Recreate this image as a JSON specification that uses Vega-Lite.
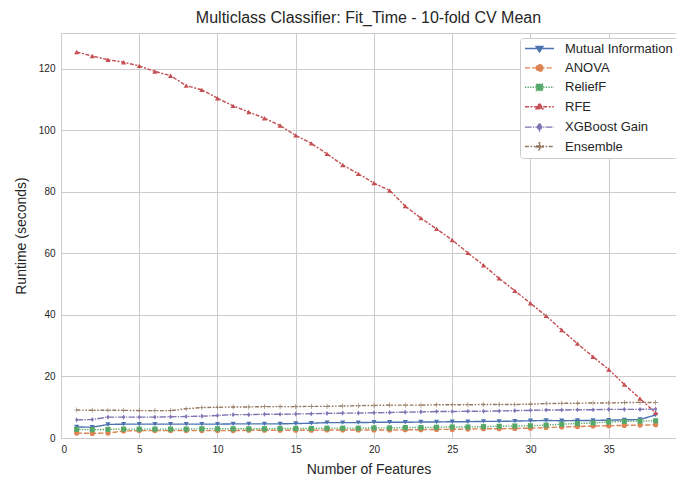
{
  "$schema": "https://vega.github.io/schema/vega-lite/v6.json",
  "width": 615,
  "height": 405,
  "autosize": {"type": "none"},
  "padding": {"left": 61, "top": 33, "right": 0, "bottom": 42},
  "background": "white",
  "title": {"text": "Multiclass Classifier: Fit_Time - 10-fold CV Mean", "fontSize": 16, "font": "Liberation Sans", "fontWeight": "normal", "color": "#262626", "offset": 7},
  "config": {
    "font": "Liberation Sans",
    "view": {"stroke": "#cccccc", "strokeWidth": 1},
    "axis": {"gridColor": "#cccccc", "gridWidth": 1, "domain": false, "ticks": false, "labelFontSize": 10, "labelColor": "#262626", "titleFontSize": 14, "titleFontWeight": "normal", "titleColor": "#262626", "labelPadding": 6},
    "point": {"filled": true, "opacity": 1, "size": 26, "strokeWidth": 0}
  },
  "data": {"values": [
{"x":1,"m":"Mutual Information","y":3.6},{"x":2,"m":"Mutual Information","y":3.5},{"x":3,"m":"Mutual Information","y":4.4},{"x":4,"m":"Mutual Information","y":4.5},{"x":5,"m":"Mutual Information","y":4.5},{"x":6,"m":"Mutual Information","y":4.5},{"x":7,"m":"Mutual Information","y":4.5},{"x":8,"m":"Mutual Information","y":4.5},{"x":9,"m":"Mutual Information","y":4.5},{"x":10,"m":"Mutual Information","y":4.5},{"x":11,"m":"Mutual Information","y":4.6},{"x":12,"m":"Mutual Information","y":4.6},{"x":13,"m":"Mutual Information","y":4.6},{"x":14,"m":"Mutual Information","y":4.6},{"x":15,"m":"Mutual Information","y":4.7},{"x":16,"m":"Mutual Information","y":4.8},{"x":17,"m":"Mutual Information","y":5.0},{"x":18,"m":"Mutual Information","y":5.0},{"x":19,"m":"Mutual Information","y":5.0},{"x":20,"m":"Mutual Information","y":5.1},{"x":21,"m":"Mutual Information","y":5.1},{"x":22,"m":"Mutual Information","y":5.1},{"x":23,"m":"Mutual Information","y":5.2},{"x":24,"m":"Mutual Information","y":5.2},{"x":25,"m":"Mutual Information","y":5.3},{"x":26,"m":"Mutual Information","y":5.3},{"x":27,"m":"Mutual Information","y":5.4},{"x":28,"m":"Mutual Information","y":5.4},{"x":29,"m":"Mutual Information","y":5.5},{"x":30,"m":"Mutual Information","y":5.6},{"x":31,"m":"Mutual Information","y":5.7},{"x":32,"m":"Mutual Information","y":5.6},{"x":33,"m":"Mutual Information","y":5.7},{"x":34,"m":"Mutual Information","y":5.7},{"x":35,"m":"Mutual Information","y":5.8},{"x":36,"m":"Mutual Information","y":5.9},{"x":37,"m":"Mutual Information","y":6.0},{"x":38,"m":"Mutual Information","y":7.5},
{"x":1,"m":"ANOVA","y":1.6},{"x":2,"m":"ANOVA","y":1.5},{"x":3,"m":"ANOVA","y":1.6},{"x":4,"m":"ANOVA","y":2.3},{"x":5,"m":"ANOVA","y":2.4},{"x":6,"m":"ANOVA","y":2.4},{"x":7,"m":"ANOVA","y":2.4},{"x":8,"m":"ANOVA","y":2.4},{"x":9,"m":"ANOVA","y":2.4},{"x":10,"m":"ANOVA","y":2.4},{"x":11,"m":"ANOVA","y":2.4},{"x":12,"m":"ANOVA","y":2.5},{"x":13,"m":"ANOVA","y":2.5},{"x":14,"m":"ANOVA","y":2.5},{"x":15,"m":"ANOVA","y":2.5},{"x":16,"m":"ANOVA","y":2.5},{"x":17,"m":"ANOVA","y":2.6},{"x":18,"m":"ANOVA","y":2.6},{"x":19,"m":"ANOVA","y":2.6},{"x":20,"m":"ANOVA","y":2.6},{"x":21,"m":"ANOVA","y":2.6},{"x":22,"m":"ANOVA","y":2.7},{"x":23,"m":"ANOVA","y":2.7},{"x":24,"m":"ANOVA","y":2.8},{"x":25,"m":"ANOVA","y":2.8},{"x":26,"m":"ANOVA","y":2.9},{"x":27,"m":"ANOVA","y":3.0},{"x":28,"m":"ANOVA","y":3.0},{"x":29,"m":"ANOVA","y":3.1},{"x":30,"m":"ANOVA","y":3.2},{"x":31,"m":"ANOVA","y":3.4},{"x":32,"m":"ANOVA","y":3.6},{"x":33,"m":"ANOVA","y":3.7},{"x":34,"m":"ANOVA","y":3.9},{"x":35,"m":"ANOVA","y":4.0},{"x":36,"m":"ANOVA","y":4.1},{"x":37,"m":"ANOVA","y":4.2},{"x":38,"m":"ANOVA","y":4.3},
{"x":1,"m":"ReliefF","y":2.8},{"x":2,"m":"ReliefF","y":2.7},{"x":3,"m":"ReliefF","y":2.8},{"x":4,"m":"ReliefF","y":2.9},{"x":5,"m":"ReliefF","y":2.9},{"x":6,"m":"ReliefF","y":2.9},{"x":7,"m":"ReliefF","y":2.9},{"x":8,"m":"ReliefF","y":2.9},{"x":9,"m":"ReliefF","y":3.0},{"x":10,"m":"ReliefF","y":3.0},{"x":11,"m":"ReliefF","y":3.0},{"x":12,"m":"ReliefF","y":3.0},{"x":13,"m":"ReliefF","y":3.0},{"x":14,"m":"ReliefF","y":3.1},{"x":15,"m":"ReliefF","y":3.1},{"x":16,"m":"ReliefF","y":3.1},{"x":17,"m":"ReliefF","y":3.2},{"x":18,"m":"ReliefF","y":3.2},{"x":19,"m":"ReliefF","y":3.2},{"x":20,"m":"ReliefF","y":3.3},{"x":21,"m":"ReliefF","y":3.3},{"x":22,"m":"ReliefF","y":3.4},{"x":23,"m":"ReliefF","y":3.4},{"x":24,"m":"ReliefF","y":3.5},{"x":25,"m":"ReliefF","y":3.6},{"x":26,"m":"ReliefF","y":3.6},{"x":27,"m":"ReliefF","y":3.7},{"x":28,"m":"ReliefF","y":3.8},{"x":29,"m":"ReliefF","y":3.9},{"x":30,"m":"ReliefF","y":4.0},{"x":31,"m":"ReliefF","y":4.2},{"x":32,"m":"ReliefF","y":4.5},{"x":33,"m":"ReliefF","y":4.7},{"x":34,"m":"ReliefF","y":4.9},{"x":35,"m":"ReliefF","y":5.2},{"x":36,"m":"ReliefF","y":5.4},{"x":37,"m":"ReliefF","y":5.5},{"x":38,"m":"ReliefF","y":5.6},
{"x":1,"m":"RFE","y":125.5},{"x":2,"m":"RFE","y":124.2},{"x":3,"m":"RFE","y":123.0},{"x":4,"m":"RFE","y":122.2},{"x":5,"m":"RFE","y":121.0},{"x":6,"m":"RFE","y":119.2},{"x":7,"m":"RFE","y":117.8},{"x":8,"m":"RFE","y":114.6},{"x":9,"m":"RFE","y":113.2},{"x":10,"m":"RFE","y":110.5},{"x":11,"m":"RFE","y":108.0},{"x":12,"m":"RFE","y":106.0},{"x":13,"m":"RFE","y":104.0},{"x":14,"m":"RFE","y":101.6},{"x":15,"m":"RFE","y":98.4},{"x":16,"m":"RFE","y":95.8},{"x":17,"m":"RFE","y":92.4},{"x":18,"m":"RFE","y":88.8},{"x":19,"m":"RFE","y":85.9},{"x":20,"m":"RFE","y":82.9},{"x":21,"m":"RFE","y":80.5},{"x":22,"m":"RFE","y":75.4},{"x":23,"m":"RFE","y":71.5},{"x":24,"m":"RFE","y":68.0},{"x":25,"m":"RFE","y":64.4},{"x":26,"m":"RFE","y":60.2},{"x":27,"m":"RFE","y":56.2},{"x":28,"m":"RFE","y":51.9},{"x":29,"m":"RFE","y":47.9},{"x":30,"m":"RFE","y":43.8},{"x":31,"m":"RFE","y":39.7},{"x":32,"m":"RFE","y":35.1},{"x":33,"m":"RFE","y":30.7},{"x":34,"m":"RFE","y":26.4},{"x":35,"m":"RFE","y":22.3},{"x":36,"m":"RFE","y":17.4},{"x":37,"m":"RFE","y":12.8},{"x":38,"m":"RFE","y":8.2},
{"x":1,"m":"XGBoost Gain","y":5.9},{"x":2,"m":"XGBoost Gain","y":6.0},{"x":3,"m":"XGBoost Gain","y":6.8},{"x":4,"m":"XGBoost Gain","y":6.8},{"x":5,"m":"XGBoost Gain","y":6.8},{"x":6,"m":"XGBoost Gain","y":6.8},{"x":7,"m":"XGBoost Gain","y":6.9},{"x":8,"m":"XGBoost Gain","y":7.0},{"x":9,"m":"XGBoost Gain","y":7.1},{"x":10,"m":"XGBoost Gain","y":7.3},{"x":11,"m":"XGBoost Gain","y":7.6},{"x":12,"m":"XGBoost Gain","y":7.6},{"x":13,"m":"XGBoost Gain","y":7.7},{"x":14,"m":"XGBoost Gain","y":7.7},{"x":15,"m":"XGBoost Gain","y":7.8},{"x":16,"m":"XGBoost Gain","y":7.9},{"x":17,"m":"XGBoost Gain","y":8.0},{"x":18,"m":"XGBoost Gain","y":8.1},{"x":19,"m":"XGBoost Gain","y":8.1},{"x":20,"m":"XGBoost Gain","y":8.2},{"x":21,"m":"XGBoost Gain","y":8.3},{"x":22,"m":"XGBoost Gain","y":8.4},{"x":23,"m":"XGBoost Gain","y":8.5},{"x":24,"m":"XGBoost Gain","y":8.6},{"x":25,"m":"XGBoost Gain","y":8.6},{"x":26,"m":"XGBoost Gain","y":8.7},{"x":27,"m":"XGBoost Gain","y":8.7},{"x":28,"m":"XGBoost Gain","y":8.8},{"x":29,"m":"XGBoost Gain","y":8.9},{"x":30,"m":"XGBoost Gain","y":9.0},{"x":31,"m":"XGBoost Gain","y":9.1},{"x":32,"m":"XGBoost Gain","y":9.1},{"x":33,"m":"XGBoost Gain","y":9.2},{"x":34,"m":"XGBoost Gain","y":9.2},{"x":35,"m":"XGBoost Gain","y":9.3},{"x":36,"m":"XGBoost Gain","y":9.3},{"x":37,"m":"XGBoost Gain","y":9.3},{"x":38,"m":"XGBoost Gain","y":9.4},
{"x":1,"m":"Ensemble","y":9.1},{"x":2,"m":"Ensemble","y":9.0},{"x":3,"m":"Ensemble","y":9.0},{"x":4,"m":"Ensemble","y":9.0},{"x":5,"m":"Ensemble","y":8.9},{"x":6,"m":"Ensemble","y":8.9},{"x":7,"m":"Ensemble","y":8.9},{"x":8,"m":"Ensemble","y":9.5},{"x":9,"m":"Ensemble","y":9.9},{"x":10,"m":"Ensemble","y":10.0},{"x":11,"m":"Ensemble","y":10.1},{"x":12,"m":"Ensemble","y":10.1},{"x":13,"m":"Ensemble","y":10.2},{"x":14,"m":"Ensemble","y":10.2},{"x":15,"m":"Ensemble","y":10.2},{"x":16,"m":"Ensemble","y":10.3},{"x":17,"m":"Ensemble","y":10.3},{"x":18,"m":"Ensemble","y":10.4},{"x":19,"m":"Ensemble","y":10.5},{"x":20,"m":"Ensemble","y":10.6},{"x":21,"m":"Ensemble","y":10.7},{"x":22,"m":"Ensemble","y":10.7},{"x":23,"m":"Ensemble","y":10.7},{"x":24,"m":"Ensemble","y":10.8},{"x":25,"m":"Ensemble","y":10.8},{"x":26,"m":"Ensemble","y":10.8},{"x":27,"m":"Ensemble","y":10.9},{"x":28,"m":"Ensemble","y":10.9},{"x":29,"m":"Ensemble","y":10.9},{"x":30,"m":"Ensemble","y":11.0},{"x":31,"m":"Ensemble","y":11.2},{"x":32,"m":"Ensemble","y":11.3},{"x":33,"m":"Ensemble","y":11.3},{"x":34,"m":"Ensemble","y":11.4},{"x":35,"m":"Ensemble","y":11.4},{"x":36,"m":"Ensemble","y":11.5},{"x":37,"m":"Ensemble","y":11.6},{"x":38,"m":"Ensemble","y":11.5}
  ]},
  "encoding": {
    "x": {"field": "x", "type": "quantitative", "title": "Number of Features", "scale": {"domain": [0, 39.3], "nice": false, "zero": false}, "axis": {"values": [0,5,10,15,20,25,30,35], "titlePadding": 8}},
    "y": {"field": "y", "type": "quantitative", "title": "Runtime (seconds)", "scale": {"domain": [0, 131.7], "nice": false}, "axis": {"values": [0,20,40,60,80,100,120], "titlePadding": 10}}
  },
  "layer": [
    {"mark": {"type": "line", "strokeWidth": 1.4},
     "encoding": {
       "color": {"field": "m", "type": "nominal", "title": null,
         "scale": {"domain": ["Mutual Information","ANOVA","ReliefF","RFE","XGBoost Gain","Ensemble"], "range": ["#4C72B0","#DD8452","#55A868","#C44E52","#8172B3","#937860"]},
         "legend": {"orient": "none", "legendX": 459, "legendY": 5, "fillColor": "white", "strokeColor": "#cccccc", "cornerRadius": 3, "padding": 4, "labelFontSize": 13, "labelColor": "#262626", "rowPadding": 5.4, "symbolType": "stroke", "symbolSize": 121, "symbolStrokeWidth": 1.4, "labelOffset": 28,
           "encode": {"symbols": {"update": {
             "fill": {"scale": "color", "field": "value"},
             "fillOpacity": {"value": 1},
             "shape": {"signal": "datum.value === 'Mutual Information' ? 'M-1,0H4.27M1.0,-0.38L2.28,-0.38L1.64,0.64Z' : datum.value === 'ANOVA' ? 'M-1,0H4.27M2.24,0A0.6,0.6 0 1,1 1.04,0A0.6,0.6 0 1,1 2.24,0Z' : datum.value === 'ReliefF' ? 'M-1,0H4.27M1.06,-0.58H2.22V0.58H1.06Z' : datum.value === 'RFE' ? 'M-1,0H4.27M1.0,0.38L2.28,0.38L1.64,-0.64Z' : datum.value === 'XGBoost Gain' ? 'M-1,0H4.27M1.64,-0.7L2.06,0L1.64,0.7L1.22,0Z' : 'M-1,0H4.27M1.0,-0.1H1.54V-0.64H1.74V-0.1H2.28V0.1H1.74V0.64H1.54V0.1H1.0Z'"}
           }}}}},
       "strokeDash": {"field": "m", "type": "nominal", "title": null,
        "scale": {"domain": ["Mutual Information","ANOVA","ReliefF","RFE","XGBoost Gain","Ensemble"], "range": [[1,0],[5.2,2],[1.3,1.3],[3.9,1.6,2,1.6],[6.5,1.3,1.3,1.3],[3.9,1.6,1.6,1.6,1.6,1.6]]}}}},
    {"transform": [{"filter": "datum.m === 'Mutual Information'"}], "mark": {"type": "point", "shape": "triangle-down", "fill": "#4C72B0"}},
    {"transform": [{"filter": "datum.m === 'ANOVA'"}], "mark": {"type": "point", "shape": "circle", "fill": "#DD8452"}},
    {"transform": [{"filter": "datum.m === 'ReliefF'"}], "mark": {"type": "point", "shape": "square", "fill": "#55A868"}},
    {"transform": [{"filter": "datum.m === 'RFE'"}], "mark": {"type": "point", "shape": "triangle-up", "fill": "#C44E52"}},
    {"transform": [{"filter": "datum.m === 'XGBoost Gain'"}], "mark": {"type": "point", "shape": "M0,-1L0.6,0L0,1L-0.6,0Z", "fill": "#8172B3"}},
    {"transform": [{"filter": "datum.m === 'Ensemble'"}], "mark": {"type": "point", "shape": "M-1,-0.12H-0.12V-1H0.12V-0.12H1V0.12H0.12V1H-0.12V0.12H-1Z", "fill": "#937860"}}
  ]
}
